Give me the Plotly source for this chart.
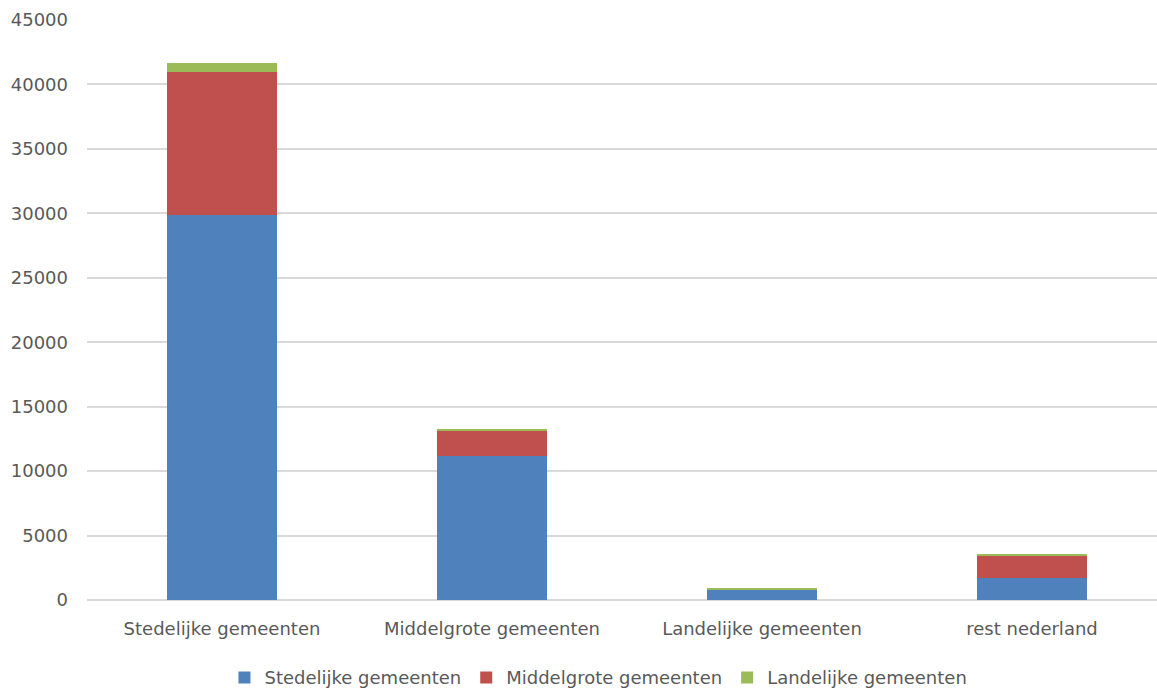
import plotly.graph_objects as go

categories = ["Stedelijke gemeenten", "Middelgrote gemeenten", "Landelijke gemeenten", "rest nederland"]
stedelijk = [29850, 11160, 780, 1730]
middelgroot = [11130, 1965, 20, 1650]
landelijk = [720, 130, 100, 210]
series_names = ["Stedelijke gemeenten", "Middelgrote gemeenten", "Landelijke gemeenten"]
colors = ["#4f81bd", "#c0504d", "#9bbb59"]
y_ticks = [0, 5000, 10000, 15000, 20000, 25000, 30000, 35000, 40000, 45000]

FONT = "DejaVu Sans"
TXT = "#595959"

fig = go.Figure()
for name, vals, col in zip(series_names, [stedelijk, middelgroot, landelijk], colors):
    fig.add_trace(go.Bar(x=categories, y=vals, name=name, marker=dict(color=col, line=dict(width=0))))

fig.update_layout(
    barmode="stack",
    bargap=0.593,
    width=1157, height=688,
    margin=dict(l=87, r=0, t=20, b=88, autoexpand=False),
    paper_bgcolor="white", plot_bgcolor="white",
    font=dict(family=FONT, size=18, color=TXT),
    legend=dict(orientation="h", x=0.478, xanchor="center", y=-0.134, yanchor="middle",
                font=dict(family=FONT, size=18, color=TXT), itemwidth=30, traceorder="normal"),
    xaxis=dict(range=[-0.5, 3.463], showgrid=False, showline=False, ticks="", automargin=False,
               ticklabelstandoff=16, tickfont=dict(family=FONT, size=18, color=TXT)),
    yaxis=dict(range=[0, 45000], tickvals=y_ticks, ticktext=[str(v) for v in y_ticks],
               showgrid=True, gridcolor="#d9d9d9", gridwidth=1.5, zeroline=True, automargin=False,
               zerolinecolor="#d9d9d9", zerolinewidth=1.5, showline=False, ticks="",
               ticklabelstandoff=18, tickfont=dict(family=FONT, size=18, color=TXT)),
)

fig.write_html("out.html")
